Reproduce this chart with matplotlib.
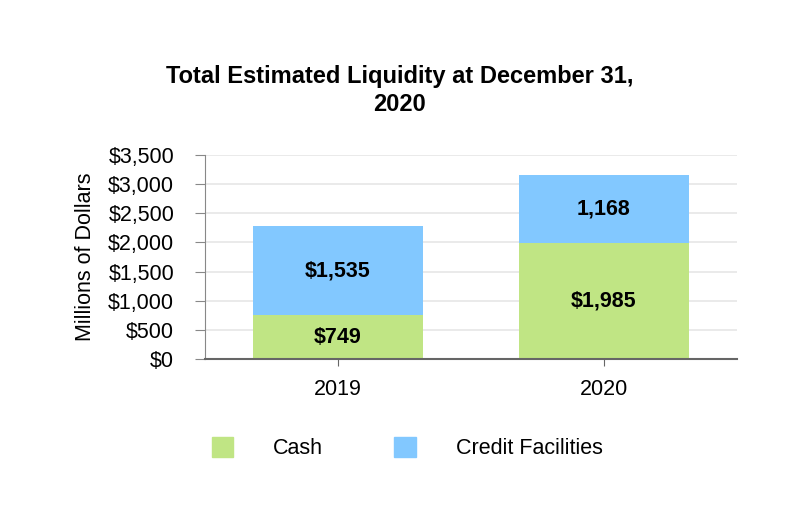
import matplotlib.pyplot as plt
from matplotlib.patches import Patch
import numpy as np

plt.rcParams['font.family'] = ['Liberation Sans', 'DejaVu Sans']

years = ['2019', '2020']
cash = [749, 1985]
credit = [1535, 1168]
cash_labels = ['$749', '$1,985']
credit_labels = ['$1,535', '1,168']
yticks = [0, 500, 1000, 1500, 2000, 2500, 3000, 3500]

green = '#C0E584'
blue = '#82C8FF'

f = plt.figure(figsize=(8, 5.32), dpi=100)
ax = f.add_axes([0.256, 0.325, 0.665, 0.384])

x = np.arange(len(years))
ax.bar(x, cash, width=0.64, color=green, zorder=2)
ax.bar(x, credit, width=0.64, bottom=cash, color=blue, zorder=2)

for i in range(len(years)):
    ax.text(x[i], cash[i] / 2, cash_labels[i], ha='center', va='center',
            fontsize=15.5, fontweight='bold', zorder=3)
    ax.text(x[i], cash[i] + credit[i] / 2, credit_labels[i], ha='center', va='center',
            fontsize=15.5, fontweight='bold', zorder=3)

ax.set_xlim(-0.5, 1.5)
ax.set_ylim(0, 3500)
ax.set_xticks(x)
ax.set_xticklabels(years, fontsize=15.5)
ax.set_yticks(yticks)
ax.set_yticklabels(['${:,}'.format(v) for v in yticks], fontsize=15.5)
ax.set_ylabel('Millions of Dollars', fontsize=15.5, labelpad=9)

ax.grid(axis='y', color='#E6E6E6', linewidth=1.2, zorder=0)
for s in ['top', 'right']:
    ax.spines[s].set_visible(False)
ax.spines['left'].set_color('#888888')
ax.spines['bottom'].set_color('#666666')
ax.spines['bottom'].set_linewidth(1.5)
ax.tick_params(axis='y', length=7, color='#888888', pad=15)
ax.tick_params(axis='x', length=5, color='#666666', pad=9)

f.suptitle('Total Estimated Liquidity at December 31,\n2020', fontsize=17,
           fontweight='bold', x=0.5, y=0.878, linespacing=1.3)

handles = [Patch(color=green), Patch(color=blue)]
f.legend(handles, ['Cash', 'Credit Facilities'], loc='center', ncol=2,
         bbox_to_anchor=(0.509, 0.157), frameon=False, fontsize=15.5,
         handlelength=1.0, handleheight=1.0, handletextpad=1.85, columnspacing=3.3)

plt.savefig('out.png', dpi=100)
